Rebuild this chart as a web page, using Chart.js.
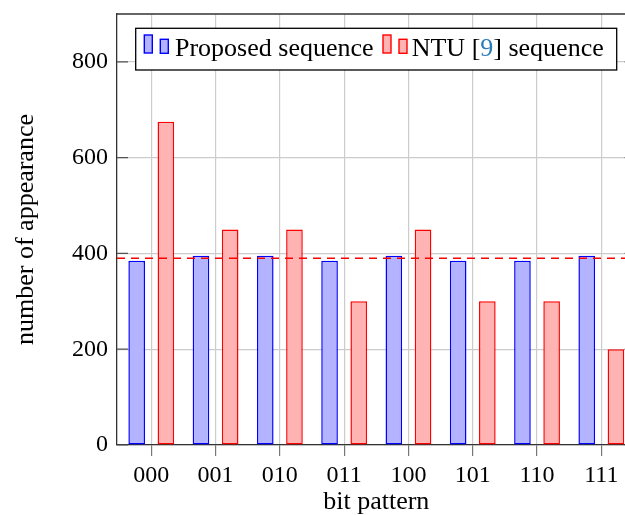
<!DOCTYPE html>
<html><head><meta charset="utf-8">
<script src="https://cdn.jsdelivr.net/npm/chart.js@4.4.1/dist/chart.umd.min.js"></script>
<style>html,body{margin:0;padding:0;overflow:hidden;background:#fff}canvas{display:block}</style>
</head><body><canvas id="c" width="640" height="515"></canvas>
<script>
// ---- data ----
const categories = ['000','001','010','011','100','101','110','111'];
const proposedValues = [385,395,395,385,395,385,385,395];
const ntuValues = [675,450,450,300,450,300,300,200];
const meanValue = 390;
const yTickValues = [0,200,400,600,800];
const yMax = 900;
const xMin = -0.533, xMax = 7.533;
const proposedLabel = 'Proposed sequence';
const ntuLabelParts = ['NTU [', '9', '] sequence'];

const serif = '"Liberation Serif", "Times New Roman", serif';
const blueLine = '#0000ff', blueFill = '#b3b3ff';
const redLine = '#ff0000', redFill = '#ffb3b3';

const frame = {
  id: 'frame',
  beforeDatasetsDraw(chart) {
    const {ctx, chartArea: a, scales: {y}} = chart;
    ctx.save();
    ctx.strokeStyle = '#555'; ctx.lineWidth = 1.2;
    yTickValues.forEach(v => {
      const py = y.getPixelForValue(v);
      ctx.beginPath();
      ctx.moveTo(a.left, py); ctx.lineTo(a.left + 11, py);
      ctx.moveTo(a.right - 11, py); ctx.lineTo(a.right, py);
      ctx.stroke();
    });
    ctx.strokeStyle = '#333'; ctx.lineWidth = 1.3;
    ctx.beginPath();
    ctx.moveTo(a.left, a.top); ctx.lineTo(a.right, a.top);
    ctx.moveTo(a.right, a.top); ctx.lineTo(a.right, a.bottom);
    ctx.stroke();
    ctx.restore();
  }
};

const legendPlugin = {
  id: 'pgfLegend',
  afterDraw(chart) {
    const {ctx} = chart;
    ctx.save();
    const bx = 135.7, by = 28.3, bw = 481, bh = 41.7;
    ctx.fillStyle = '#fff'; ctx.fillRect(bx, by, bw, bh);
    ctx.strokeStyle = '#000'; ctx.lineWidth = 1.3; ctx.strokeRect(bx, by, bw, bh);
    const icon = (x, fill, stroke) => {
      ctx.lineWidth = 1.4; ctx.fillStyle = fill; ctx.strokeStyle = stroke;
      ctx.fillRect(x, 35, 8, 18); ctx.strokeRect(x, 35, 8, 18);
      ctx.fillRect(x + 16, 39.3, 8, 14); ctx.strokeRect(x + 16, 39.3, 8, 14);
    };
    icon(144.3, blueFill, blueLine);
    icon(383, redFill, redLine);
    ctx.font = '26px ' + serif; ctx.textBaseline = 'alphabetic'; ctx.textAlign = 'left';
    ctx.fillStyle = '#000';
    ctx.fillText(proposedLabel, 175, 56);
    let x = 411.7;
    const colors = ['#000', '#2b7bb9', '#000'];
    ntuLabelParts.forEach((t, i) => {
      ctx.fillStyle = colors[i];
      ctx.fillText(t, x, 56);
      x += ctx.measureText(t).width;
    });
    ctx.restore();
  }
};

new Chart(document.getElementById('c'), {
  type: 'bar',
  data: {
    datasets: [
      {
        type: 'line', label: 'mean', order: 0,
        data: [{x: xMin, y: meanValue}, {x: xMax, y: meanValue}],
        borderColor: redLine, borderWidth: 1.3, borderDash: [8, 6],
        pointRadius: 0, fill: false
      },
      {
        label: proposedLabel, order: 1,
        data: proposedValues.map((v, i) => ({x: i, y: v})),
        backgroundColor: blueFill, borderColor: blueLine, borderWidth: 1.5,
        borderSkipped: false, categoryPercentage: 0.908, barPercentage: 0.57
      },
      {
        label: ntuLabelParts.join(''), order: 2,
        data: ntuValues.map((v, i) => ({x: i, y: v})),
        backgroundColor: redFill, borderColor: redLine, borderWidth: 1.5,
        borderSkipped: false, categoryPercentage: 0.908, barPercentage: 0.57
      }
    ]
  },
  options: {
    responsive: false, animation: false, devicePixelRatio: 1,
    layout: {padding: {top: 14, right: 4.4, left: 0, bottom: 0}},
    plugins: {legend: {display: false}, tooltip: {enabled: false}},
    scales: {
      x: {
        type: 'linear', min: xMin, max: xMax, offset: false,
        afterBuildTicks(s) { s.ticks = categories.map((_, i) => ({value: i})); },
        afterFit(s) { s.height = 70; s.paddingLeft = 0; s.paddingRight = 0; },
        ticks: {
          callback: v => categories[v] ?? '',
          font: {family: serif, size: 24}, color: '#000', padding: 5,
          maxRotation: 0, autoSkip: false
        },
        grid: {offset: false, color: '#cccccc', lineWidth: 1.2, tickLength: 11, tickColor: '#777', drawTicks: true},
        border: {display: true, color: '#333', width: 1.3},
        title: {display: true, text: 'bit pattern', color: '#000',
          font: {family: serif, size: 26, lineHeight: 0.95}, padding: {top: 0, bottom: 0}}
      },
      y: {
        type: 'linear', min: 0, max: yMax,
        afterBuildTicks(s) { s.ticks = yTickValues.map(v => ({value: v})); },
        afterFit(s) { s.width = 117; s.paddingTop = 0; s.paddingBottom = 0; },
        ticks: {font: {family: serif, size: 24}, color: '#000', padding: 9},
        grid: {color: '#cccccc', lineWidth: 1.2, drawTicks: false},
        border: {display: true, color: '#333', width: 1.3},
        title: {display: true, text: 'number of appearance', color: '#000',
          font: {family: serif, size: 26, lineHeight: 1}, padding: {top: 13, bottom: 0}}
      }
    }
  },
  plugins: [frame, legendPlugin]
});
</script>
</body></html>
